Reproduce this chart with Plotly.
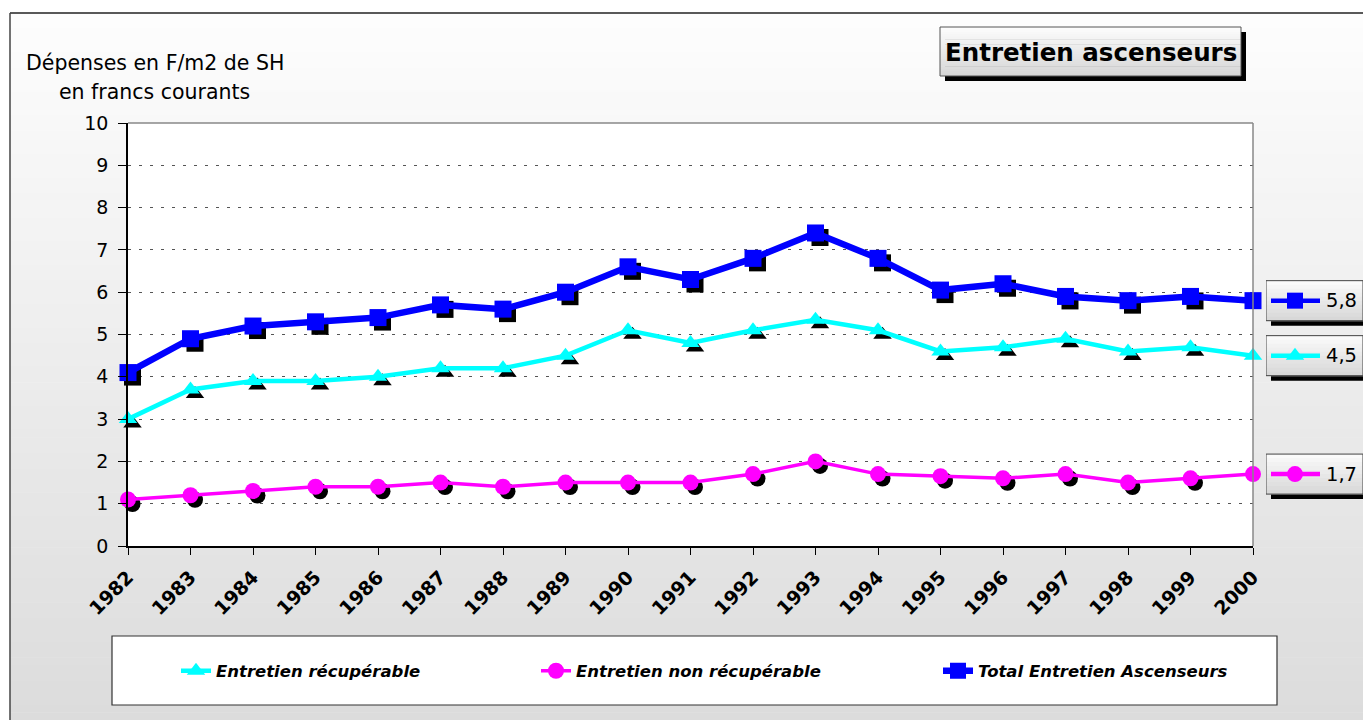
import plotly.graph_objects as go

# ---------------- data ----------------
years = list(range(1982, 2001))
year_labels = [str(y) for y in years]
recuperable = [3.0, 3.7, 3.9, 3.9, 4.0, 4.2, 4.2, 4.5, 5.1, 4.8, 5.1, 5.35, 5.1, 4.6, 4.7, 4.9, 4.6, 4.7, 4.5]
non_recuperable = [1.1, 1.2, 1.3, 1.4, 1.4, 1.5, 1.4, 1.5, 1.5, 1.5, 1.7, 2.0, 1.7, 1.65, 1.6, 1.7, 1.5, 1.6, 1.7]
total = [4.1, 4.9, 5.2, 5.3, 5.4, 5.7, 5.6, 6.0, 6.6, 6.3, 6.8, 7.4, 6.8, 6.05, 6.2, 5.9, 5.8, 5.9, 5.8]
final_labels = [5.8, 4.5, 1.7]  # total, recuperable, non recuperable
series_names = ["Entretien récupérable", "Entretien non récupérable", "Total Entretien Ascenseurs"]
title_text = "Entretien ascenseurs"
ytitle_lines = ["Dépenses en F/m2 de SH", "en francs courants"]
y_ticks = list(range(0, 11))

# ---------------- geometry helpers (page pixels -> paper) ----------------
FIG_W, FIG_H = 1363, 720
ML, MR, MT, MB = 128, 0, 123, 174
PW = FIG_W - ML - MR
PH = FIG_H - MT - MB
PLOT_RIGHT_PX = 1253
BOX_LEFT_PX = 1266


def px_x(px):
    return (px - ML) / PW


def px_y(py):
    return (FIG_H - MB - py) / PH


D_MAIN = px_x(PLOT_RIGHT_PX)
D_BOX = px_x(BOX_LEFT_PX)

FONT = "DejaVu Sans"

shapes = []
annotations = []


def gradient_rect(x0, y0, x1, y1, c_top, c_bot, n):
    """stack of strips in page pixels (paper refs)"""
    for i in range(n):
        t = i / max(n - 1, 1)
        c = [round(c_top[k] + (c_bot[k] - c_top[k]) * t) for k in range(3)]
        ya = y0 + (y1 - y0) * i / n
        yb = y0 + (y1 - y0) * (i + 1) / n + 0.6
        shapes.append(dict(type="rect", xref="paper", yref="paper", layer="below",
                           x0=px_x(x0), x1=px_x(x1), y0=px_y(ya), y1=px_y(min(yb, y1)),
                           line=dict(width=0), fillcolor=f"rgb({c[0]},{c[1]},{c[2]})"))


# page background gradient inside frame
gradient_rect(10, 13, FIG_W, FIG_H, (253, 253, 253), (220, 220, 220), 90)
# frame lines
shapes.append(dict(type="line", xref="paper", yref="paper", layer="below",
                   x0=px_x(10), x1=px_x(FIG_W), y0=px_y(13), y1=px_y(13),
                   line=dict(color="#222", width=1.5)))
shapes.append(dict(type="line", xref="paper", yref="paper", layer="below",
                   x0=px_x(10), x1=px_x(10), y0=px_y(13), y1=px_y(FIG_H),
                   line=dict(color="#444", width=1.5)))
# plot area white
shapes.append(dict(type="rect", xref="paper", yref="paper", layer="below",
                   x0=0, x1=D_MAIN, y0=0, y1=1, line=dict(width=0), fillcolor="white"))
# gray top / right borders of plot
shapes.append(dict(type="line", xref="paper", yref="paper", layer="above",
                   x0=0, x1=D_MAIN, y0=1, y1=1, line=dict(color="#888", width=1.5)))
shapes.append(dict(type="line", xref="paper", yref="paper", layer="above",
                   x0=D_MAIN, x1=D_MAIN, y0=0, y1=1, line=dict(color="#888", width=1.5)))

# title box
shapes.append(dict(type="rect", xref="paper", yref="paper", layer="below",
                   x0=px_x(945), x1=px_x(1246), y0=px_y(81), y1=px_y(32),
                   line=dict(width=0), fillcolor="black"))
gradient_rect(940, 27, 1241, 76, (252, 252, 252), (214, 214, 214), 20)
shapes.append(dict(type="rect", xref="paper", yref="paper", layer="below",
                   x0=px_x(940), x1=px_x(1241), y0=px_y(76), y1=px_y(27),
                   line=dict(color="#555", width=1), fillcolor="rgba(0,0,0,0)"))
annotations.append(dict(xref="paper", yref="paper", x=px_x(1091), y=px_y(52),
                        text=f"<b>{title_text}</b>", showarrow=False,
                        font=dict(family=FONT, size=24.5, color="black"),
                        xanchor="center", yanchor="middle"))

# y title
annotations.append(dict(xref="paper", yref="paper", x=px_x(155), y=px_y(63),
                        text=ytitle_lines[0], showarrow=False,
                        font=dict(family=FONT, size=20.5, color="black"),
                        xanchor="center", yanchor="middle"))
annotations.append(dict(xref="paper", yref="paper", x=px_x(154), y=px_y(92),
                        text=ytitle_lines[1], showarrow=False,
                        font=dict(family=FONT, size=20.5, color="black"),
                        xanchor="center", yanchor="middle"))

# legend box
shapes.append(dict(type="rect", xref="paper", yref="paper", layer="below",
                   x0=px_x(112), x1=px_x(1277), y0=px_y(705), y1=px_y(636),
                   line=dict(color="#333", width=1.2), fillcolor="white"))

# ---------------- traces ----------------
series = [
    dict(name=series_names[0], y=recuperable, color="#00FFFF", symbol="triangle-up", size=16, lw=4.5,
         legend="legend", text_px=216),
    dict(name=series_names[1], y=non_recuperable, color="#FF00FF", symbol="circle", size=16, lw=3.5,
         legend="legend2", text_px=576),
    dict(name=series_names[2], y=total, color="#0000FF", symbol="square", size=17, lw=6.5,
         legend="legend3", text_px=978),
]

fig = go.Figure()

# invisible trace on base axes so the base subplot (ticks, grid) is drawn
fig.add_trace(go.Scatter(x=years, y=total, mode="markers", xaxis="x", yaxis="y",
                         marker=dict(opacity=0, size=1), showlegend=False, hoverinfo="skip"))

# shadows (offset via overlaying axes x2/y2)
for s in series:
    fig.add_trace(go.Scatter(x=years, y=s["y"], mode="markers", xaxis="x2", yaxis="y2",
                             marker=dict(symbol=s["symbol"], size=s["size"], color="black"),
                             showlegend=False, hoverinfo="skip", cliponaxis=False))
# main series
for s in series:
    fig.add_trace(go.Scatter(x=years, y=s["y"], mode="lines+markers", name=s["name"],
                             xaxis="x3", yaxis="y3", legend=s["legend"],
                             line=dict(color=s["color"], width=s["lw"]),
                             marker=dict(symbol=s["symbol"], size=s["size"], color=s["color"]),
                             cliponaxis=False))

# right-side value boxes
box_series = [(series[2], final_labels[0]), (series[0], final_labels[1]), (series[1], final_labels[2])]
box_w = FIG_W - BOX_LEFT_PX
for s, v in box_series:
    shapes.append(dict(type="rect", xref="x4", yref="y4", layer="below", ysizemode="pixel", yanchor=v,
                       x0=5 / box_w, x1=1.0, y0=-25, y1=15, line=dict(width=0), fillcolor="black"))
    n = 10
    for i in range(n):
        t = i / (n - 1)
        c = round(250 + (216 - 250) * t)
        shapes.append(dict(type="rect", xref="x4", yref="y4", layer="below", ysizemode="pixel", yanchor=v,
                           x0=0, x1=1.0, y0=20 - 40 * (i + 1) / n - 0.5, y1=20 - 40 * i / n,
                           line=dict(width=0), fillcolor=f"rgb({c},{c},{c})"))
    shapes.append(dict(type="rect", xref="x4", yref="y4", layer="below", ysizemode="pixel", yanchor=v,
                       x0=0, x1=1.0, y0=-20, y1=20, line=dict(color="#444", width=1),
                       fillcolor="rgba(0,0,0,0)"))
    fig.add_trace(go.Scatter(x=[5 / box_w, 54 / box_w], y=[v, v], mode="lines", xaxis="x4", yaxis="y4",
                             line=dict(color=s["color"], width=4.5),
                             showlegend=False, hoverinfo="skip"))
    fig.add_trace(go.Scatter(x=[29 / box_w], y=[v], mode="markers", xaxis="x4", yaxis="y4",
                             marker=dict(symbol=s["symbol"], size=16, color=s["color"]),
                             showlegend=False, hoverinfo="skip", cliponaxis=False))
    annotations.append(dict(xref="x4", yref="y4", x=58 / box_w, y=v,
                            text=f"{v:.1f}".replace(".", ","), showarrow=False,
                            font=dict(family=FONT, size=19.5, color="black"),
                            xanchor="left", yanchor="middle"))

sx = 4.5 / ((PLOT_RIGHT_PX - ML) / (years[-1] - years[0]))
sy = 4.5 / (PH / 10)

legend_font = dict(family=FONT, size=16.5, color="black", weight="bold", style="italic")


def legend_cfg(text_px):
    return dict(orientation="h", x=px_x(text_px - 40), y=px_y(671), xanchor="left", yanchor="middle",
                bgcolor="rgba(0,0,0,0)", borderwidth=0, font=legend_font, itemsizing="trace")


fig.update_layout(
    width=FIG_W, height=FIG_H, autosize=False,
    margin=dict(l=ML, r=MR, t=MT, b=MB, pad=0, autoexpand=False),
    paper_bgcolor="white",
    plot_bgcolor="rgba(0,0,0,0)",
    font=dict(family=FONT, color="black"),
    showlegend=True,
    legend=legend_cfg(series[0]["text_px"]),
    legend2=legend_cfg(series[1]["text_px"]),
    legend3=legend_cfg(series[2]["text_px"]),
    xaxis=dict(domain=[0, D_MAIN], range=[years[0], years[-1]], tickmode="array",
               tickvals=years, ticktext=year_labels, tickangle=-45, automargin=False,
               ticks="outside", ticklen=7, tickcolor="black", tickwidth=1,
               showline=True, linecolor="black", linewidth=1.5, showgrid=False, zeroline=False,
               ticklabelstandoff=4,
               tickfont=dict(family=FONT, size=19, color="black", weight="bold"), anchor="y"),
    yaxis=dict(domain=[0, 1], range=[0, 10], tickmode="array", tickvals=y_ticks, automargin=False,
               ticks="outside", ticklen=8, tickcolor="black", tickwidth=1,
               showline=True, linecolor="black", linewidth=1.5,
               showgrid=True, gridcolor="#555", gridwidth=1, griddash="3px,8px", zeroline=False,
               ticklabelposition="outside", ticklabelstandoff=6,
               tickfont=dict(family=FONT, size=19, color="black"), anchor="x"),
    xaxis2=dict(overlaying="x", range=[years[0] - sx, years[-1] - sx], visible=False),
    yaxis2=dict(overlaying="y", range=[0 + sy, 10 + sy], visible=False),
    xaxis3=dict(overlaying="x", range=[years[0], years[-1]], visible=False),
    yaxis3=dict(overlaying="y", range=[0, 10], visible=False),
    xaxis4=dict(domain=[D_BOX, 1], range=[0, 1], visible=False, anchor="y4"),
    yaxis4=dict(domain=[0, 1], range=[0, 10], visible=False, anchor="x4"),
    shapes=shapes,
    annotations=annotations,
)

fig.write_html("out.html", config={"displayModeBar": False, "responsive": False},
               post_script="document.body.style.margin='0';document.body.style.overflow='hidden';")
